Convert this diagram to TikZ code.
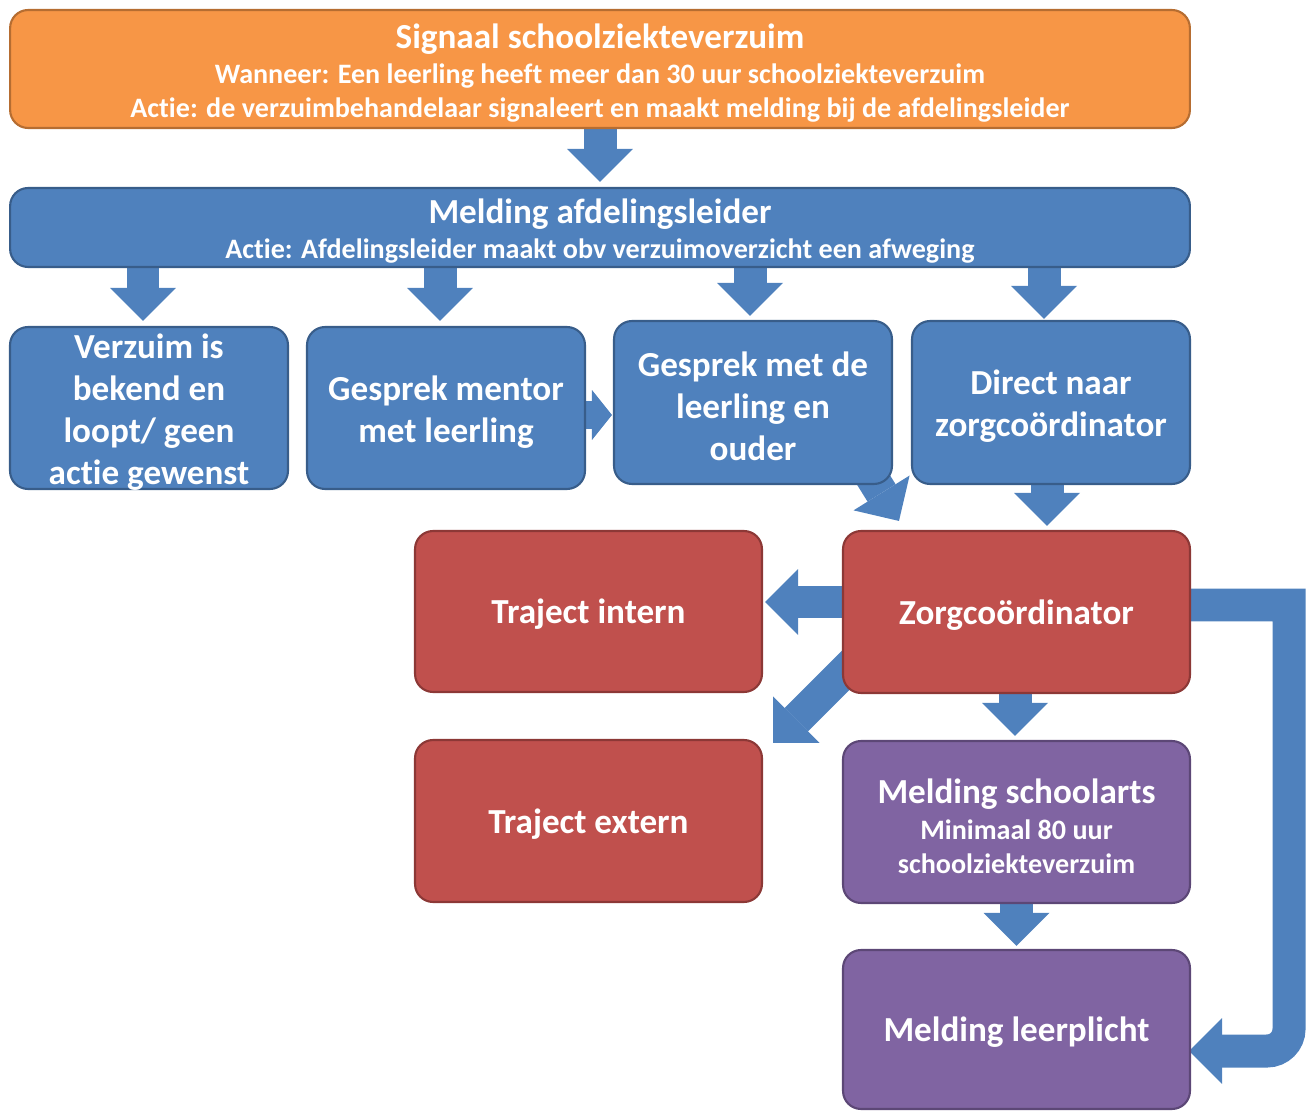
\documentclass[tikz,border=0pt]{standalone}
\usepackage{fontspec}
\setmainfont[Ligatures=CommonOff]{Carlito}
\usetikzlibrary{arrows.meta,calc,backgrounds}

\definecolor{oranje}{HTML}{F79646}
\definecolor{oranjerand}{HTML}{B66D31}
\definecolor{blauw}{HTML}{4F81BD}
\definecolor{blauwrand}{HTML}{385D8A}
\definecolor{rood}{HTML}{C0504D}
\definecolor{roodrand}{HTML}{8C3836}
\definecolor{paars}{HTML}{8064A2}
\definecolor{paarsrand}{HTML}{5C4776}

\newcommand{\groot}{\bfseries\fontsize{20}{24}\selectfont}
\newcommand{\klein}{\fontsize{16}{19}\selectfont}

\tikzset{
	blok/.style={rounded corners=0.36cm, line width=1.2pt, text=white, align=flush center, inner sep=0pt, font=\groot, execute at end node={\par\vspace{-4.5pt}}},
	oranjeblok/.style={blok, fill=oranje, draw=oranjerand},
	blauwblok/.style={blok, fill=blauw, draw=blauwrand, minimum width=5.56cm, minimum height=3.24cm, text width=5.4cm},
	roodblok/.style={blok, fill=rood, draw=roodrand, minimum width=6.94cm, minimum height=3.22cm, text width=6.7cm},
	paarsblok/.style={blok, fill=paars, draw=paarsrand, minimum width=6.94cm, minimum height=3.22cm, text width=6.7cm},
	pijl/.style={draw=blauw, line width=0.66cm, -{Triangle[width=1.32cm, length=0.66cm, line width=0pt]}},
	pijlklein/.style={draw=blauw, line width=0.58cm, -{Triangle[width=1cm, length=0.4cm, line width=0pt]}}
}

\begin{document}
\begin{tikzpicture}[x=0.02cm, y=-0.02cm]
		%\draw[gray, dotted] (0, 0) grid (1309, 1111);
		\useasboundingbox (0, 0) rectangle (1309, 1111);
		\node[oranjeblok, minimum width=23.6cm, minimum height=2.36cm, text width=23cm] (signaal) at (600, 69) {Signaal schoolziekteverzuim\par\vspace{1pt}{\klein Wanneer: Een leerling heeft meer dan 30 uur schoolziekteverzuim\\Actie: de verzuimbehandelaar signaleert en maakt melding bij de afdelingsleider\par}};
		\node[blok, fill=blauw, draw=blauwrand, minimum width=23.6cm, minimum height=1.58cm, text width=23cm] (melding) at (600, 227.5) {Melding afdelingsleider\par\vspace{1pt}{\klein Actie: Afdelingsleider maakt obv verzuimoverzicht een afweging\par}};
		\node[blauwblok] (verzuim) at (149, 408) {Verzuim is\\bekend en\\loopt/ geen\\actie gewenst};
		\node[blauwblok] (mentor) at (446, 408) {Gesprek mentor\\met leerling};
		\node[blauwblok, minimum height=3.26cm] (ouder) at (753, 402.5) {Gesprek met de\\leerling en\\ouder};
		\node[blauwblok, minimum height=3.26cm] (direct) at (1051, 402.5) {Direct naar\\zorgcoördinator};
		\node[roodblok] (intern) at (588.5, 611.5) {Traject intern};
		\node[roodblok, minimum height=3.24cm] (zorg) at (1016.5, 612) {Zorgcoördinator};
		\node[roodblok, minimum height=3.24cm] (extern) at (588.5, 821) {Traject extern};
		\node[paarsblok, minimum height=3.24cm] (schoolarts) at (1016.5, 822) {Melding schoolarts\par\vspace{2pt}{\klein Minimaal 80 uur\\schoolziekteverzuim\par}};
		\node[paarsblok, minimum height=3.18cm] (leerplicht) at (1016.5, 1029.5) {Melding leerplicht};
		% pijlen onder de blokken
		\begin{scope}[on background layer]
		\draw[pijl, shorten >=0.1cm] (signaal.south) -- (melding.north);
		\draw[pijl, shorten >=0.1cm] ($(melding.south -| verzuim.north)+(-6, 0)$) -- ($(verzuim.north)+(-6, 0)$);
		\draw[pijl, shorten >=0.1cm] ($(melding.south -| mentor.north)+(-6, 0)$) -- ($(mentor.north)+(-6, 0)$);
		\draw[pijl, shorten >=0.08cm] ($(melding.south -| ouder.north)+(-3, 0)$) -- ($(ouder.north)+(-3, 0)$);
		\draw[pijl, shorten >=0.02cm] ($(melding.south -| direct.north)+(-7, 0)$) -- ($(direct.north)+(-7, 0)$);
		\draw[pijlklein, shorten >=0.02cm] ($(mentor.east)+(0, 7)$) -- ($(ouder.west |- mentor.east)+(0, 7)$);
		\draw[pijl] ($(ouder.south east)+(-40, -38)$) -- ($(zorg.north west)+(57, -9)$);
		\draw[pijl, shorten >=0.08cm] ($(direct.south)+(-4, 0)$) -- ($(zorg.north -| direct.south)+(-4, 0)$);
		\draw[pijl, shorten >=0.04cm] ($(zorg.west)+(0, -10)$) -- ($(intern.east |- zorg.west)+(0, -10)$);
		\draw[pijl] ($(zorg.south west)+(14, -34)$) -- ($(extern.north east)+(10, 4)$);
		\draw[pijl, shorten >=0.08cm] ($(zorg.south)+(-1.5, 0)$) -- ($(schoolarts.north)+(-1.5, 0)$);
		\draw[pijl, shorten >=0.06cm] (schoolarts.south) -- (leerplicht.north);
		\draw[pijl, line join=miter] ($(zorg.east)+(0, -7)$) -- ++(98, 0) [rounded corners=0.44cm] -- ($(leerplicht.east)+(98, 21.5)$) -- ($(leerplicht.east)+(-2, 21.5)$);
		\end{scope}
	\end{tikzpicture}
\end{document}
